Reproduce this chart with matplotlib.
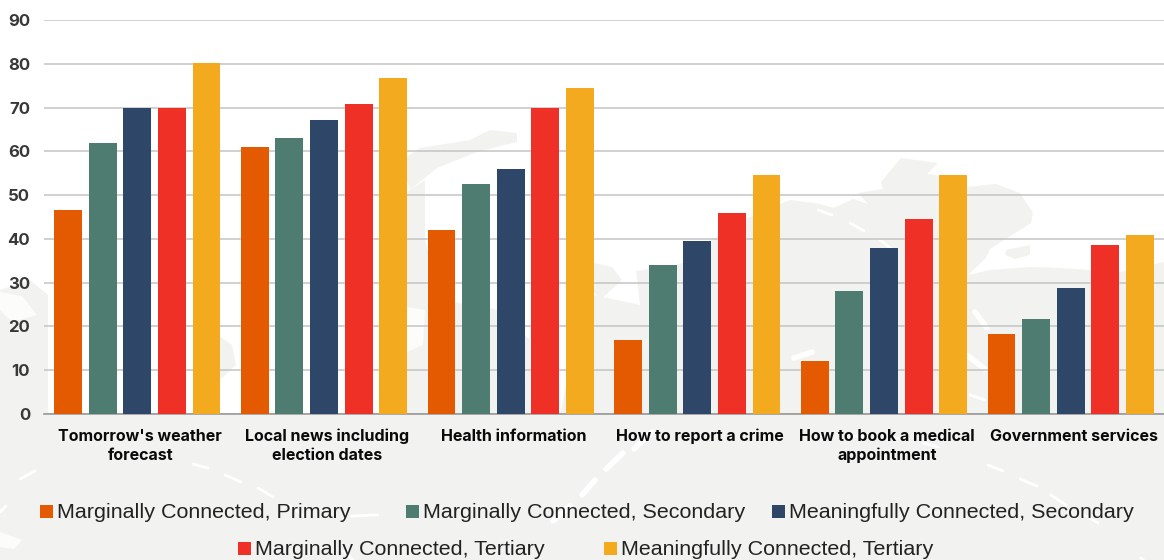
import matplotlib
matplotlib.use("Agg")
import matplotlib.pyplot as plt
from matplotlib.patches import Polygon, Rectangle
import numpy as np

categories = ["Tomorrow's weather\nforecast", "Local news including\nelection dates",
              "Health information", "How to report a crime",
              "How to book a medical\nappointment", "Government services"]
marginal_primary = [46.5, 61.0, 42.0, 17.0, 12.0, 18.2]
marginal_secondary = [61.8, 63.0, 52.5, 34.0, 28.0, 21.8]
meaningful_secondary = [70.0, 67.2, 56.0, 39.5, 38.0, 28.7]
marginal_tertiary = [69.8, 70.8, 69.8, 46.0, 44.5, 38.5]
meaningful_tertiary = [80.2, 76.7, 74.5, 54.6, 54.5, 41.0]
series_labels = ["Marginally Connected, Primary", "Marginally Connected, Secondary",
                 "Meaningfully Connected, Secondary", "Marginally Connected, Tertiary",
                 "Meaningfully Connected, Tertiary"]
series_colors = ["#E35A00", "#4F7C70", "#2E4769", "#EF3026", "#F3AA1E"]
y_ticks = list(range(0, 100, 10))

W, H = 1164, 560
GREY = "#F2F2F0"
fig = plt.figure(figsize=(W / 100, H / 100), dpi=100, facecolor="white")

# Backdrop: a pale world-map silhouette with a white dashed route, in pixel units
bg = fig.add_axes([0, 0, 1, 1], zorder=0)
bg.set_xlim(0, W)
bg.set_ylim(H, 0)
bg.axis("off")

land = [
    [(0, 415), (1164, 415), (1164, 560), (0, 560)],
    # eastern landmass
    [(636, 271), (675, 265), (708, 256), (710, 241), (745, 219), (790, 200), (820, 204),
     (834, 208), (853, 199), (868, 204), (858, 193), (883, 189), (881, 182), (901, 158),
     (938, 163), (927, 174), (957, 178), (949, 189), (996, 184), (1020, 193), (1033, 213),
     (1031, 223), (990, 249), (986, 258), (968, 275), (990, 270), (1030, 267), (1060, 268),
     (1120, 272), (1164, 262), (1164, 416), (560, 416), (575, 340), (593, 295), (640, 305)],
    # island near the right edge of the landmass
    [(1006, 250), (1030, 245), (1030, 255), (1015, 259), (1005, 255)],
    # northern tongue
    [(407, 157), (420, 148), (470, 140), (490, 130), (517, 133), (517, 142), (477, 152),
     (437, 168), (410, 190), (405, 175)],
    # central strip between the third and fourth groups
    [(395, 200), (425, 180), (425, 240), (440, 300), (500, 310), (530, 340), (530, 416),
     (400, 416), (403, 350), (395, 300)],
    [(590, 262), (612, 267), (622, 280), (600, 300), (585, 280)],
    # western coast
    [(0, 290), (30, 280), (48, 295), (48, 416), (0, 416)],
    [(218, 335), (232, 345), (236, 365), (222, 378), (218, 378)],
]
for pts in land:
    bg.add_patch(Polygon(pts, closed=True, fc=GREY, ec="none"))

# White cut-outs in the silhouette
holes = [
    [(0, 292), (22, 296), (37, 315), (12, 322), (0, 310)],
    [(407, 307), (425, 310), (423, 345), (407, 352)],
    [(0, 532), (22, 540), (14, 549), (0, 547)],
]
for pts in holes:
    bg.add_patch(Polygon(pts, closed=True, fc="white", ec="none", alpha=0.8))

thin_dashes = [
    ((193, 464), (208, 468)), ((225, 475), (241, 482)), ((258, 488), (273, 497)),
    ((288, 505), (304, 516)), ((351, 516), (378, 515)), ((343, 551), (360, 566)),
    ((850, 436), (868, 436)), ((890, 437), (901, 439)), ((923, 443), (938, 447)),
    ((20, 479), (35, 471)), ((0, 512), (6, 506)),
    ((988, 465), (1003, 471)), ((1020, 479), (1037, 486)), ((1051, 495), (1066, 505)),
    ((1083, 514), (1098, 523)), ((1141, 558), (1154, 570)),
    ((970, 395), (985, 400)),
    ((818, 210), (832, 215)), ((850, 223), (864, 231)), ((880, 240), (893, 250)),
]
thick_dashes = [
    ((975, 312), (987, 328)), ((794, 358), (812, 352)), ((968, 356), (985, 369)),
    ((582, 495), (595, 480)), ((606, 469), (623, 453)), ((634, 449), (652, 432)),
    ((553, 521), (570, 506)),
]
for dashes, width in ((thin_dashes, 2.0), (thick_dashes, 4.0)):
    for (x0, y0), (x1, y1) in dashes:
        bg.plot([x0, x1], [y0, y1], color="white", lw=width, solid_capstyle="round")

# Grouped bars
ax = fig.add_axes([44 / W, (H - 414) / H, 1120 / W, 394 / H], zorder=1)
ax.patch.set_visible(False)
ax.set_xlim(-0.5, 5.5)
ax.set_ylim(0, 90)

x = np.arange(len(categories))
slot = 0.1854
bar_w = 0.149
all_series = [marginal_primary, marginal_secondary, meaningful_secondary,
              marginal_tertiary, meaningful_tertiary]
for i, (vals, col, lab) in enumerate(zip(all_series, series_colors, series_labels)):
    ax.bar(x + (i - 2) * slot, vals, width=bar_w, color=col, label=lab, zorder=3)

ax.set_yticks(y_ticks)
ax.set_yticklabels([str(v) for v in y_ticks], fontsize=12, fontfamily="Inter",
                   fontweight="bold", color="#383838")

# Category labels sit slightly right of each group centre
ax.set_xticks(x)
ax.set_xticklabels([])
for xi, name in zip(x, categories):
    ax.annotate(name, xy=(xi, 0), xytext=(3, -15), textcoords="offset pixels",
                ha="center", va="top", fontsize=11.55, fontfamily="Inter",
                fontweight="bold", color="#0A0A0A", linespacing=1.3,
                annotation_clip=False)
ax.tick_params(axis="x", length=0)
ax.tick_params(axis="y", length=0, pad=10)
ax.grid(axis="y", color="#C4C4C4", lw=1.1, zorder=1)
ax.set_axisbelow(True)
for side in ["top", "right", "left"]:
    ax.spines[side].set_visible(False)
ax.spines["bottom"].set_color("#999999")
ax.spines["bottom"].set_linewidth(1.2)

# Legend on a fixed two-row grid, centred under the plot
legend_slots = [(40, 511), (406, 511), (772, 511), (238, 548), (604, 548)]
for (lx, ly), col, lab in zip(legend_slots, series_colors, series_labels):
    bg.add_patch(Rectangle((lx, ly - 6.5), 13, 13, fc=col, ec="none", zorder=4))
    bg.text(lx + 17, ly + 1.5, lab, fontsize=15.45, fontfamily="Liberation Sans",
            color="#222222", va="center", ha="left", zorder=4)

fig.savefig("out.png", dpi=100)
